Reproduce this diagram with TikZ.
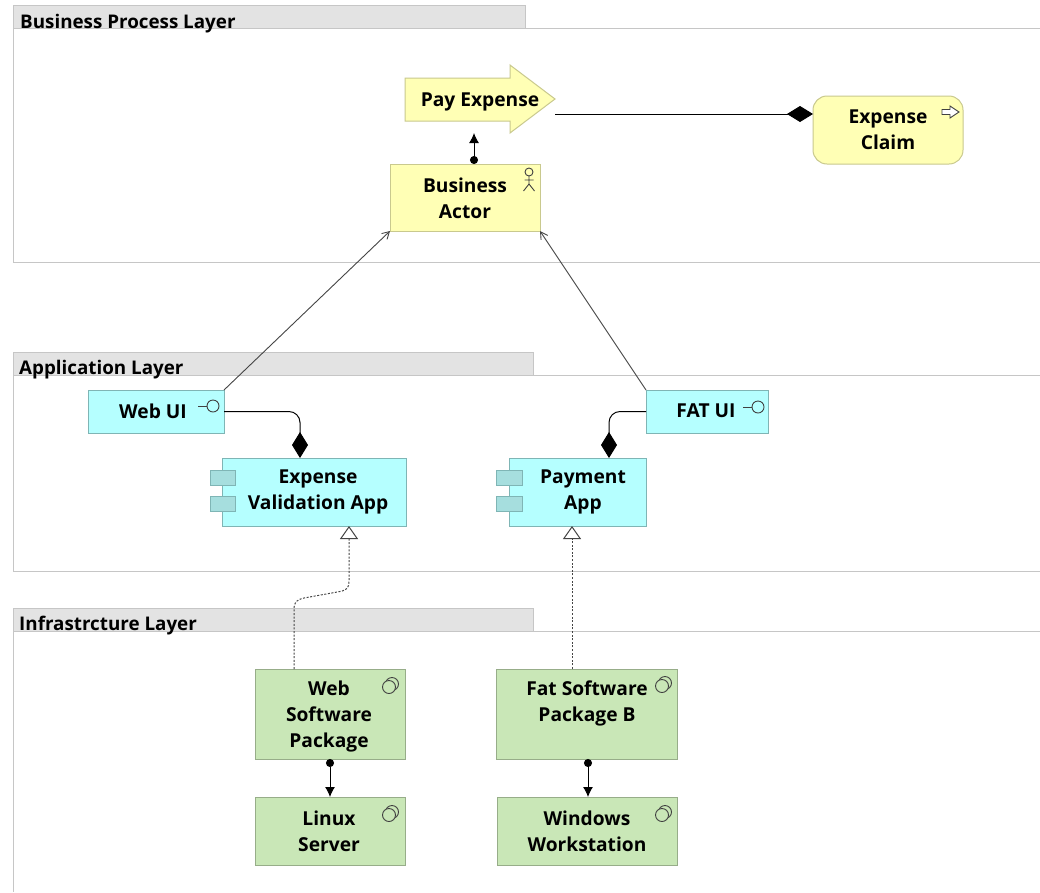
\documentclass[tikz,border=0pt]{standalone}
\usepackage{fontspec}
\setmainfont{Open Sans}
\usetikzlibrary{arrows.meta}
\definecolor{bizfill}{HTML}{FFFFB5}
\definecolor{bizline}{HTML}{C9C98E}
\definecolor{appfill}{HTML}{B5FFFF}
\definecolor{appline}{HTML}{7FB5B5}
\definecolor{appdark}{HTML}{A6DEDE}
\definecolor{techfill}{HTML}{C9E7B7}
\definecolor{techline}{HTML}{97AD89}
\definecolor{tabfill}{HTML}{E3E3E3}
\definecolor{tabline}{HTML}{C6C6C6}
\definecolor{conn}{HTML}{454545}
\tikzset{
  layertab/.style={draw=tabline,fill=tabfill,line width=0.9pt},
  layerbody/.style={draw=tabline,line width=0.9pt},
  layertitle/.style={anchor=west,inner sep=0pt,font=\fontsize{18.8}{20}\selectfont\bfseries},
  boxtext/.style={inner sep=0pt,align=center,font=\fontsize{19.2}{26}\selectfont\bfseries},
  elembox/.style={rectangle,inner sep=0pt,outer sep=0pt,line width=1pt},
  bizbox/.style={elembox,draw=bizline,fill=bizfill},
  appbox/.style={elembox,draw=appline,fill=appfill},
  techbox/.style={elembox,draw=techline,fill=techfill},
  lug/.style={draw=appline,fill=appdark,line width=1pt},
  icon/.style={draw=black!75,line width=0.9pt},
  aggr/.style={line width=1pt,black,-{Diamond[length=26pt,width=16pt,fill=black]}},
  flowdot/.style={line width=1pt,black,{Circle[length=8pt,width=8pt]}-{Latex[length=10pt,width=10pt]}},
  assoc/.style={line width=0.9pt,conn,-{Straight Barb[length=7pt,width=8pt]}},
  realize/.style={line width=1pt,conn,dash pattern=on 2pt off 1.6pt,-{Triangle[open,length=13pt,width=18pt,fill=white]}}
}
\newcommand\elem[6]{\node[#2,minimum width={#5-#3},minimum height={#6-#4}] (#1) at ({(#3+#5)/2},{(#4+#6)/2}) {};}
\newcommand\ifaceicon[2]{\draw[icon] (#1-15,#2) -- (#1-6,#2); \draw[icon] (#1,#2) circle (6);}
\newcommand\nodeicon[2]{\draw[icon] (#1+2,#2-2) circle (6.5); \draw[icon,fill=techfill] (#1-1,#2+1) circle (6.5);}
\begin{document}
\begin{tikzpicture}[x=1pt,y=-1pt]
\useasboundingbox (0,0) rectangle (1040,892);
\fill[white] (0,0) rectangle (1040,892);
% layers
\draw[layertab] (13,28) rectangle (525,5);
\draw[layerbody] (1040,28) -- (13,28) -- (13,262) -- (1040,262);
\node[layertitle] (t1) at (20,24) {Business Process Layer};
\draw[layertab] (13,375) rectangle (533,352);
\draw[layerbody] (1040,375) -- (13,375) -- (13,571) -- (1040,571);
\node[layertitle] (t2) at (19,370) {Application Layer};
\draw[layertab] (13,631) rectangle (533,608);
\draw[layerbody] (1040,631) -- (13,631) -- (13,892);
\node[layertitle] (t3) at (19,626) {Infrastrcture Layer};
% business elements
\draw[elembox,draw=bizline,fill=bizfill] (405,78) -- (510,78) -- (510,65) -- (555,99) -- (510,133) -- (510,121) -- (405,121) -- cycle;
\node[boxtext] (pay) at (480,102) {Pay Expense};
\elem{actor}{bizbox}{390}{164}{540}{231}
\node[boxtext] (actort) at (465,198) {Business\\Actor};
\draw[icon] (529,172) circle (4);
\draw[icon] (529,176) -- (529,184) (524.5,180) -- (533.5,180) (523.5,191) -- (529,184) -- (534.5,191);
\elem{claim}{bizbox,rounded corners=14pt}{813}{96}{963}{164}
\node[boxtext] (claimt) at (888,130) {Expense\\Claim};
\draw[icon,fill=white,line join=miter] (942,109.5) -- (950,109.5) -- (950,106) -- (959,112) -- (950,118) -- (950,114.5) -- (942,114.5) -- cycle;
% application elements
\elem{webui}{appbox}{88}{390}{224}{433}
\node[boxtext] (webuit) at (153,411) {Web UI};
\ifaceicon{213}{406}
\elem{fatui}{appbox}{646}{390}{768}{433}
\node[boxtext] (fatuit) at (706,411) {FAT UI};
\ifaceicon{758}{407}
\elem{expval}{appbox}{222}{458}{406}{526}
\draw[lug] (210,470) rectangle (235,485);
\draw[lug] (210,496) rectangle (235,511);
\node[boxtext] (expvalt) at (318,492) {Expense\\Validation App};
\elem{payapp}{appbox}{509}{458}{646}{526}
\draw[lug] (496,470) rectangle (522,485);
\draw[lug] (496,496) rectangle (522,511);
\node[boxtext] (payappt) at (583,492) {Payment\\App};
% technology elements
\elem{websw}{techbox}{255}{669}{405}{759}
\node[boxtext] (webswt) at (329,716) {Web\\Software\\Package};
\nodeicon{390}{686}
\elem{fatsw}{techbox}{496}{669}{677}{759}
\node[boxtext] (fatswt) at (587,703) {Fat Software\\Package B};
\nodeicon{663}{685}
\elem{linux}{techbox}{255}{797}{405}{865}
\node[boxtext] (linuxt) at (329,831) {Linux\\Server};
\nodeicon{390}{814}
\elem{windows}{techbox}{497}{797}{677}{865}
\node[boxtext] (windowst) at (587,831) {Windows\\Workstation};
\nodeicon{663}{814}
% connector ends
\coordinate (payout) at (555,114);
\coordinate (claimin) at (813,114);
\coordinate (actorout) at (474,164);
\coordinate (payin) at (474,133);
\coordinate (expvalin) at (300,458);
\coordinate (payappin) at (609,458);
\coordinate (expvalreal) at (349,526);
\coordinate (webswreal) at (294,669);
\coordinate (payappreal) at (572,526);
\coordinate (fatswreal) at (572,669);
\coordinate (webswout) at (330,759);
\coordinate (linuxin) at (330,797);
\coordinate (fatswout) at (588,759);
\coordinate (windowsin) at (588,797);
% connectors
\draw[aggr] (payout) -- (claimin);
\draw[flowdot] (actorout) -- (payin);
\draw[assoc] (webui.north east) -- (actor.south west);
\draw[assoc] (fatui.north west) -- (actor.south east);
\draw[aggr,rounded corners=11pt] (webui.east) -| (expvalin);
\draw[aggr,rounded corners=11pt] (fatui.west) -| (payappin);
\draw[realize] (webswreal) -- (294,610) .. controls (294,602) and (296,600) .. (304,598) -- (340,591.5) .. controls (347,590) and (349,588) .. (349,581) -- (expvalreal);
\draw[realize] (fatswreal) -- (payappreal);
\draw[flowdot] (webswout) -- (linuxin);
\draw[flowdot] (fatswout) -- (windowsin);
\end{tikzpicture}
\end{document}
